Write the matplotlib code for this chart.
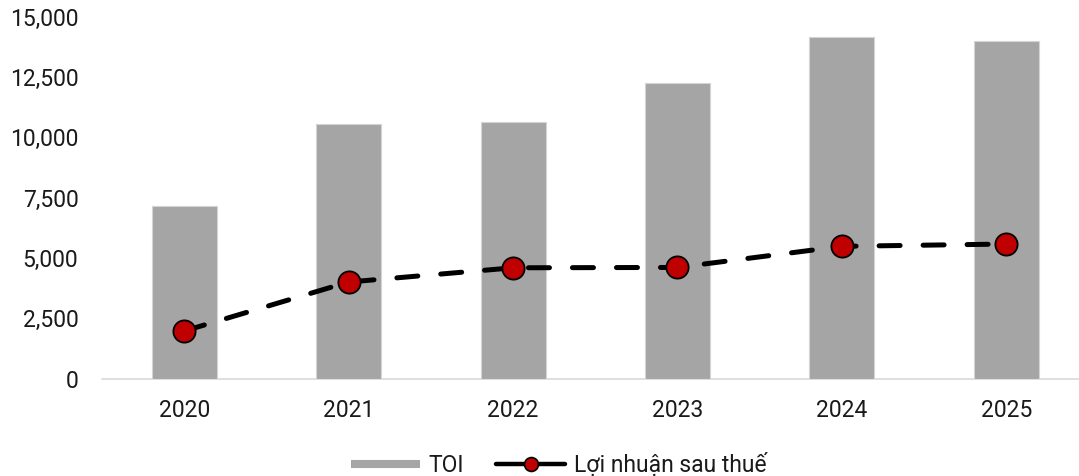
import matplotlib
matplotlib.use("Agg")
import matplotlib.pyplot as plt
from matplotlib.lines import Line2D
import numpy as np

plt.rcParams['font.family'] = ['Roboto', 'DejaVu Sans']

years = ["2020", "2021", "2022", "2023", "2024", "2025"]
toi = [7140, 10550, 10650, 12240, 14170, 14000]
profit = [1970, 4000, 4590, 4605, 5480, 5575]
y_ticks = [0, 2500, 5000, 7500, 10000, 12500, 15000]

BAR_COLOR = "#a5a5a5"
DOT_COLOR = "#c00000"

W, H = 1079, 476
fig = plt.figure(figsize=(W / 100, H / 100), dpi=100)
# axes box in pixel coords: left 102, right 1088, top 16.7, bottom 378.5
ax = fig.add_axes([102 / W, (H - 378.5) / H, (1088.5 - 102) / W, (378.5 - 16.7) / H])

x = np.arange(len(years))
ax.bar(x, toi, width=0.395, color=BAR_COLOR, edgecolor="#d4d4d4", linewidth=0.8, zorder=2)
ax.plot(x, profit, color="black", linewidth=3.6, dashes=(4.2, 4.6),
        dash_capstyle="round", zorder=3,
        marker="o", markersize=16, markerfacecolor=DOT_COLOR,
        markeredgecolor="black", markeredgewidth=1.3)

ax.set_xlim(-0.5, len(years) - 0.5)
ax.set_ylim(0, 15000)
ax.set_xticks(x)
ax.set_xticklabels(years)
ax.set_yticks(y_ticks)
ax.set_yticklabels([f"{v:,}" for v in y_ticks])
ax.tick_params(axis="both", length=0, labelsize=16.5, colors="#1a1a1a")
ax.tick_params(axis="y", pad=17)
ax.tick_params(axis="x", pad=15)

for side in ["top", "right", "left"]:
    ax.spines[side].set_visible(False)
ax.spines["bottom"].set_color("#d9d9d9")
ax.spines["bottom"].set_linewidth(1.2)
ax.spines["bottom"].set_zorder(1)

handles = [
    Line2D([], [], color=BAR_COLOR, linewidth=5.8, solid_capstyle="butt"),
    Line2D([], [], color="black", linewidth=3.2, solid_capstyle="round",
           marker="o", markersize=10, markerfacecolor=DOT_COLOR,
           markeredgecolor="black", markeredgewidth=1.2),
]
fig.legend(handles, ["TOI", "Lợi nhuận sau thuế"], loc="center",
           bbox_to_anchor=(559 / W, 11 / H), ncol=2, frameon=False,
           fontsize=16.5, handlelength=3.0, handletextpad=0.4,
           columnspacing=1.4, labelcolor="#1a1a1a")

fig.savefig("out.png", dpi=100)
